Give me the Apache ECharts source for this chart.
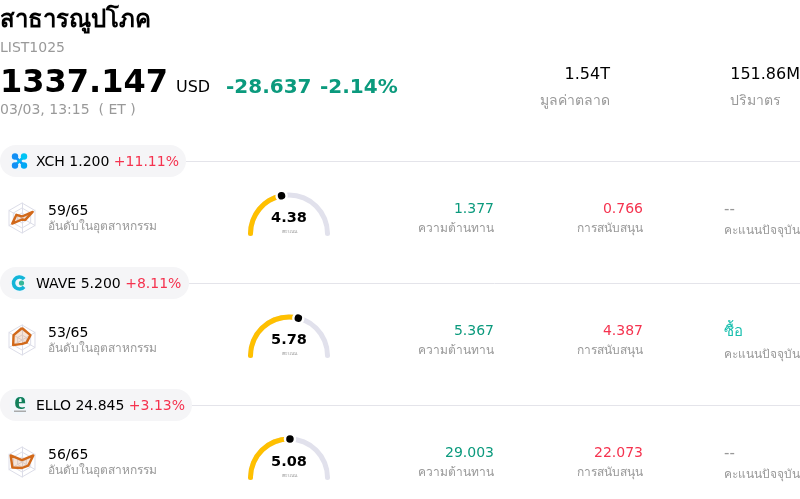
<!DOCTYPE html>
<html><head><meta charset="utf-8">
<style>html,body{margin:0;padding:0;background:#fff;overflow:hidden}#c{width:800px;height:499px}</style>
<script src="https://cdn.jsdelivr.net/npm/echarts@6/dist/echarts.min.js"></script>
</head><body><div id="c"></div>
<script>
const sectorName = 'สาธารณูปโภค';
const listCode = 'LIST1025';
const lastPrice = '1337.147';
const currency = 'USD';
const priceChange = '-28.637';
const pricePct = '-2.14%';
const timeStamp = '03/03, 13:15  ( ET )';
const headStats = [['1.54T','มูลค่าตลาด'],['151.86M','ปริมาตร']];
const symbols = ['XCH','WAVE','ELLO'];
const prices = ['1.200','5.200','24.845'];
const changes = ['+11.11%','+8.11%','+3.13%'];
const ranks = ['59/65','53/65','56/65'];
const scores = [4.38,5.78,5.08];
const resistance = ['1.377','5.367','29.003'];
const support = ['0.766','4.387','22.073'];
const ratings = ['--','ซื้อ','--'];
// radar order: top, upper-left, lower-left, bottom, lower-right, upper-right
const radarXCH  = [0.1,0.43,0.75,0.1,0.25,0.82];
const radarWAVE = [0.8,0.65,0.68,0.26,0.35,0.65];
const radarELLO = [0.13,0.87,0.74,0.4,0.48,0.87];
const radarValues = [radarXCH,radarWAVE,radarELLO];
const pillRight = [186,189,192];

const GREEN='#0b9a7d', RED='#f5334f', GRAY='#999', FONT='"DejaVu Sans",sans-serif';
const T=(x,y,text,size,fill,o={})=>({type:'text',x,y,silent:true,style:{text,fontSize:size,fill,fontFamily:FONT,
  fontWeight:o.w||'normal',align:o.a||'left',verticalAlign:'middle'}});

const g=[
  T(0,21,sectorName,24,'#000',{w:'bold'}),
  T(0,48,listCode,14,GRAY),
  T(0,84,lastPrice,32,'#000',{w:'bold'}),
  T(176,88,currency,16,'#000'),
  T(226,88,priceChange,20,GREEN,{w:'bold'}),
  T(320,88,pricePct,20,GREEN,{w:'bold'}),
  T(0,110,timeStamp,14,GRAY),
  T(610,75,headStats[0][0],16,'#000',{a:'right'}),
  T(610,101,headStats[0][1],14,GRAY,{a:'right'}),
  T(800,75,headStats[1][0],16,'#000',{a:'right'}),
  T(730,101,headStats[1][1],14,GRAY)
];
const series=[], radar=[];
const indicator=[0,1,2,3,4,5].map(()=>({max:1,min:0}));
symbols.forEach((s,i)=>{
  const dy=122*i;
  const rated=ratings[i]!=='--';
  g.push({type:'line',silent:true,shape:{x1:pillRight[i],y1:161.5+dy,x2:800,y2:161.5+dy},style:{stroke:'#e4e4ea',lineWidth:1}});
  g.push({type:'rect',silent:true,shape:{x:0,y:145+dy,width:pillRight[i],height:32,r:16},style:{fill:'#f5f5f7'}});
  g.push({type:'circle',silent:true,shape:{cx:19.5,cy:161+dy,r:10},style:{fill:'#f0f6fb'}});
  g.push({type:'text',x:36,y:162+dy,silent:true,style:{
    text:`{a|${s} ${prices[i]} }{b|${changes[i]}}`,verticalAlign:'middle',
    rich:{a:{fontSize:14,fill:'#000',fontFamily:FONT},b:{fontSize:14,fill:RED,fontFamily:FONT}}}});
  g.push(T(48,211+dy,ranks[i],14,'#000'));
  g.push(T(48,227+dy,'อันดับในอุตสาหกรรม',12,GRAY));
  g.push(T(494,209+dy,resistance[i],14,GREEN,{a:'right'}));
  g.push(T(494,229+dy,'ความต้านทาน',12,GRAY,{a:'right'}));
  g.push(T(643,209+dy,support[i],14,RED,{a:'right'}));
  g.push(T(643,229+dy,'การสนับสนุน',12,GRAY,{a:'right'}));
  g.push(T(724,210+dy,ratings[i],15,rated?'#17bfae':GRAY));
  g.push(T(724,(rated?233:231)+dy,'คะแนนปัจจุบัน',12,GRAY));
  radar.push({center:[22,218+dy],radius:15,startAngle:90,shape:'polygon',splitNumber:3,indicator,
    axisName:{show:false},
    axisLine:{lineStyle:{color:'#dcdde8',width:1}},
    splitLine:{lineStyle:{color:'#dcdde8',width:1}},
    splitArea:{show:false}});
  series.push({type:'radar',radarIndex:i,symbol:'none',silent:true,animation:false,
    data:[{value:radarValues[i]}],
    lineStyle:{color:'#d2691a',width:2.4},areaStyle:{color:'#d2691a',opacity:0.18}});
  series.push({type:'gauge',silent:true,animation:false,center:[289,233.5+dy],radius:41,startAngle:180,endAngle:0,min:0,max:10,
    axisLine:{roundCap:true,lineStyle:{width:5,color:[[1,'#e1e1ec']]}},
    progress:{show:true,roundCap:true,width:5,itemStyle:{color:'#ffc000'}},
    axisTick:{show:false},splitLine:{show:false},axisLabel:{show:false},
    pointer:{show:false},
    anchor:{show:false},
    title:{show:true,offsetCenter:[0,-2],fontSize:5,color:'#999',fontFamily:FONT},
    detail:{show:true,valueAnimation:false,offsetCenter:[0,-15.5],fontSize:14.5,fontWeight:'bold',color:'#000',fontFamily:FONT,
      formatter:v=>v.toFixed(2)},
    data:[{value:scores[i],name:'คะแนน'}]});
  series.push({type:'gauge',silent:true,animation:false,z:5,center:[289,233.5+dy],radius:41,startAngle:180,endAngle:0,min:0,max:10,
    axisLine:{show:false},progress:{show:false},
    axisTick:{show:false},splitLine:{show:false},axisLabel:{show:false},
    pointer:{show:true,icon:'circle',length:10,width:10,offsetCenter:[0,-33.5],itemStyle:{color:'#000',borderColor:'#fff',borderWidth:2.5}},
    anchor:{show:false},title:{show:false},detail:{show:false},
    data:[{value:scores[i]}]});
});
// logo marks
g.push({type:'line',silent:true,shape:{x1:15,y1:156.5,x2:24,y2:165.5},style:{stroke:'#1290f5',lineWidth:2.5}});
g.push({type:'line',silent:true,shape:{x1:24,y1:156.5,x2:15,y2:165.5},style:{stroke:'#00b8f5',lineWidth:2.5}});
[[15,156.5,'#1290f5'],[24,156.5,'#00c4f5'],[15,165.5,'#1290f5'],[24,165.5,'#00a8f5']].forEach(p=>g.push({type:'circle',silent:true,
  shape:{cx:p[0],cy:p[1],r:3.2},style:{fill:p[2]}}));
g.push({type:'arc',silent:true,shape:{cx:19.5,cy:283,r:6,startAngle:0.7,endAngle:5.6},style:{stroke:'#12b5d8',lineWidth:3.5,fill:null}});
g.push({type:'circle',silent:true,shape:{cx:21.5,cy:283,r:2.6},style:{fill:'#35b79a'}});
g.push({type:'text',x:20,y:402,silent:true,style:{text:'e',fontSize:26,fontWeight:'bold',fill:'#11805c',fontFamily:'"Liberation Serif",serif',align:'center',verticalAlign:'middle'}});
g.push({type:'rect',silent:true,shape:{x:14,y:410.5,width:12,height:1.5},style:{fill:'#aaa'}});

const chart=echarts.init(document.getElementById('c'),null,{renderer:'canvas'});
chart.setOption({animation:false,backgroundColor:'#fff',radar,series,graphic:{elements:g}});
</script></body></html>
